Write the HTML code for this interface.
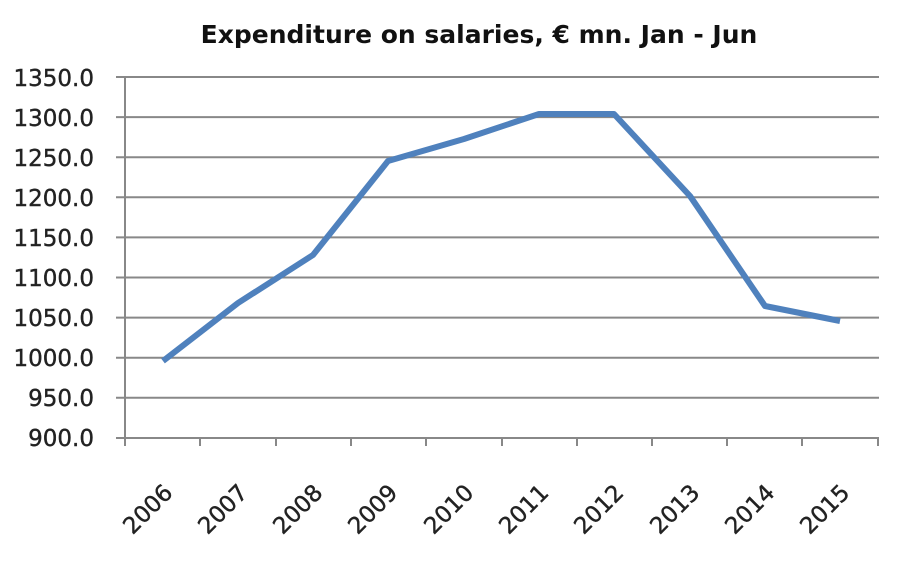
<!DOCTYPE html>
<html><head><style>body{margin:0;background:#fff}</style></head><body>
<svg width="900" height="557" xmlns="http://www.w3.org/2000/svg" font-family="DejaVu Sans, Liberation Sans, sans-serif">
<rect width="900" height="557" fill="#fff"/>
<text x="479" y="43" text-anchor="middle" font-size="25" font-weight="bold" fill="#111">Expenditure on salaries, € mn. Jan - Jun</text>
<g stroke="#888" stroke-width="2">
<line x1="116" y1="77" x2="879" y2="77"/>
<line x1="116" y1="117.1" x2="879" y2="117.1"/>
<line x1="116" y1="157.2" x2="879" y2="157.2"/>
<line x1="116" y1="197.3" x2="879" y2="197.3"/>
<line x1="116" y1="237.4" x2="879" y2="237.4"/>
<line x1="116" y1="277.5" x2="879" y2="277.5"/>
<line x1="116" y1="317.6" x2="879" y2="317.6"/>
<line x1="116" y1="357.7" x2="879" y2="357.7"/>
<line x1="116" y1="397.8" x2="879" y2="397.8"/>
<line x1="116" y1="438" x2="879" y2="438"/>
<line x1="125" y1="77" x2="125" y2="446"/>
</g>
<g stroke="#888" stroke-width="2">
<line x1="200" y1="438" x2="200" y2="446"/><line x1="276" y1="438" x2="276" y2="446"/><line x1="351" y1="438" x2="351" y2="446"/><line x1="426" y1="438" x2="426" y2="446"/><line x1="502" y1="438" x2="502" y2="446"/><line x1="577" y1="438" x2="577" y2="446"/><line x1="652" y1="438" x2="652" y2="446"/><line x1="727" y1="438" x2="727" y2="446"/><line x1="802" y1="438" x2="802" y2="446"/><line x1="878" y1="438" x2="878" y2="446"/>
</g>
<g font-size="23" fill="#222" text-anchor="end" stroke="#222" stroke-width="0.4">
<text x="94" y="86">1350.0</text><text x="94" y="126">1300.0</text><text x="94" y="166">1250.0</text><text x="94" y="206">1200.0</text><text x="94" y="246">1150.0</text><text x="94" y="286">1100.0</text><text x="94" y="326">1050.0</text><text x="94" y="366">1000.0</text><text x="94" y="406">950.0</text><text x="94" y="446">900.0</text>
</g>
<polyline fill="none" stroke="#4f81bd" stroke-width="6" stroke-linejoin="round" points="163,361 238,303 313,255 388,161 464,139 539,114 614,114 690,196 765,306 840,321"/>
<g font-size="23" fill="#222" text-anchor="end" stroke="#222" stroke-width="0.4">
<text transform="translate(174,494) rotate(-45)">2006</text>
<text transform="translate(249,494) rotate(-45)">2007</text>
<text transform="translate(324,494) rotate(-45)">2008</text>
<text transform="translate(399,494) rotate(-45)">2009</text>
<text transform="translate(475,494) rotate(-45)">2010</text>
<text transform="translate(550,494) rotate(-45)">2011</text>
<text transform="translate(625,494) rotate(-45)">2012</text>
<text transform="translate(701,494) rotate(-45)">2013</text>
<text transform="translate(776,494) rotate(-45)">2014</text>
<text transform="translate(851,494) rotate(-45)">2015</text>
</g>
</svg>
</body></html>
